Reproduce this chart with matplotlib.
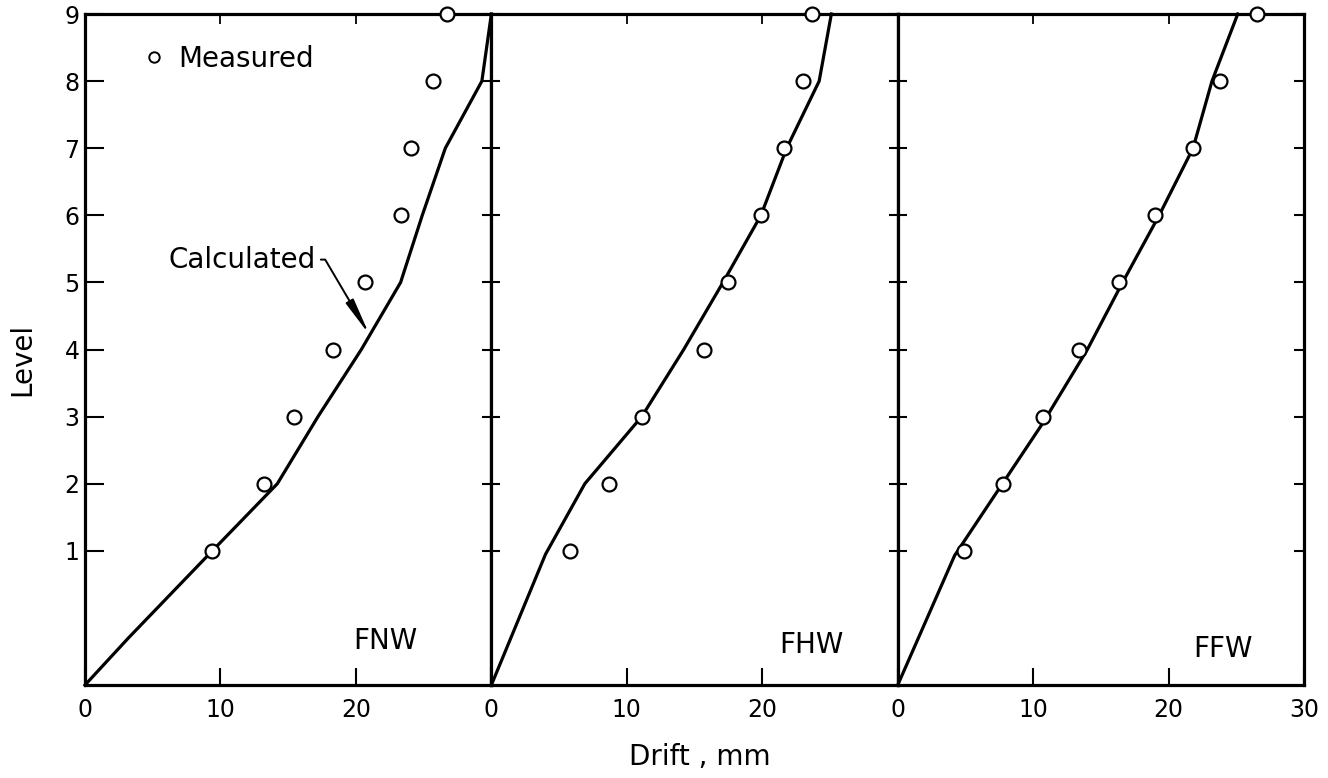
import matplotlib
matplotlib.use('Agg')
import matplotlib.pyplot as plt
import matplotlib.lines as mlines

plt.rcParams['font.family'] = ['DejaVu Sans']

# ground is drawn at level -1 (first storey is double height)
panels = ['FNW', 'FHW', 'FFW']
levels = [1, 2, 3, 4, 5, 6, 7, 8, 9]

meas_fnw = [9.4, 13.2, 15.4, 18.3, 20.7, 23.3, 24.1, 25.7, 26.7]
meas_fhw = [5.8, 8.7, 11.1, 15.7, 17.5, 19.9, 21.6, 23.0, 23.7]
meas_ffw = [4.9, 7.8, 10.7, 13.4, 16.3, 19.0, 21.8, 23.8, 26.5]

calc_fnw_y = [-1, -0.3, 1, 2, 3, 4, 5, 6, 7, 8, 9]
calc_fnw_x = [0, 3.2, 9.4, 14.2, 17.2, 20.4, 23.3, 24.9, 26.6, 29.3, 30.0]
calc_fhw_y = [-1, 0.95, 2, 3, 4, 5, 6, 7, 8, 9]
calc_fhw_x = [0, 4.0, 6.9, 11.1, 14.2, 17.1, 19.9, 21.8, 24.2, 25.1]
calc_ffw_y = [-1, 0.93, 2.9, 4, 5, 6, 7, 8, 9]
calc_ffw_x = [0, 4.2, 10.7, 14.0, 16.6, 19.3, 21.8, 23.2, 25.1]

measured = [meas_fnw, meas_fhw, meas_ffw]
calc_x = [calc_fnw_x, calc_fhw_x, calc_ffw_x]
calc_y = [calc_fnw_y, calc_fhw_y, calc_ffw_y]
label_pos = [(22.2, -0.34), (23.6, -0.4), (24.0, -0.46)]

fig, axes = plt.subplots(1, 3, figsize=(13.28, 7.78), dpi=100, sharey=True)
fig.subplots_adjust(left=0.064, right=0.982, top=0.982, bottom=0.1195, wspace=0)

for i, ax in enumerate(axes):
    ax.plot(calc_x[i], calc_y[i], color='black', lw=2.3, zorder=3, clip_on=False)
    ax.plot(measured[i], levels, 'o', ms=10, mfc='white', mec='black', mew=1.6,
            zorder=6, clip_on=False)
    ax.set_xlim(0, 30)
    ax.set_ylim(-1, 9)
    for s in ax.spines.values():
        s.set_linewidth(2.3)
    if i == 2:
        ax.set_xticks([0, 10, 20, 30])
    else:
        ax.set_xticks([0, 10, 20])
    ax.tick_params(axis='x', direction='in', length=12, width=1.5, pad=9,
                   labelsize=17)
    top = ax.secondary_xaxis('top')
    top.set_xticks([10, 20])
    top.tick_params(direction='in', length=7, width=1.3, labeltop=False)
    top.spines['top'].set_visible(False)
    ax.set_yticks(levels)
    tx, ty = label_pos[i]
    ax.text(tx, ty, panels[i], fontsize=20, ha='center', va='center')

axes[0].tick_params(axis='y', direction='in', length=14, width=1.5, pad=4,
                    labelsize=17)
axes[1].tick_params(axis='y', direction='inout', length=13, width=1.5)
axes[2].tick_params(axis='y', direction='inout', length=13, width=1.5)
# right edge ticks point inward: use a twin for separate style
rax = axes[2].twinx()
rax.set_ylim(-1, 9)
rax.set_yticks(levels)
rax.tick_params(axis='y', direction='in', length=7, width=1.5, labelright=False)
for s in rax.spines.values():
    s.set_visible(False)

handle = mlines.Line2D([], [], ls='none', marker='o', ms=7.5, mfc='white',
                       mec='black', mew=1.4)
axes[0].legend([handle], ['Measured'], loc='center left', frameon=False,
               bbox_to_anchor=(0.143, 0.933), borderaxespad=0, borderpad=0,
               handlelength=0.8, handletextpad=0.45, fontsize=20)

axes[0].annotate('Calculated', xy=(21.0, 4.22), xytext=(17.0, 5.34),
                 ha='right', va='center', fontsize=20,
                 arrowprops=dict(arrowstyle='-|>,head_length=1.1,head_width=0.13',
                                 connectionstyle='angle,angleA=0,angleB=120.5,rad=0',
                                 color='black', lw=1.4, shrinkA=2, shrinkB=0))

fig.text(22 / 1328, 1 - 359 / 778, 'Level', rotation=90, fontsize=20,
         ha='center', va='center')
fig.text(700 / 1328, 1 - 757 / 778, 'Drift , mm', fontsize=20,
         ha='center', va='center')

fig.savefig('out.png', dpi=100)
